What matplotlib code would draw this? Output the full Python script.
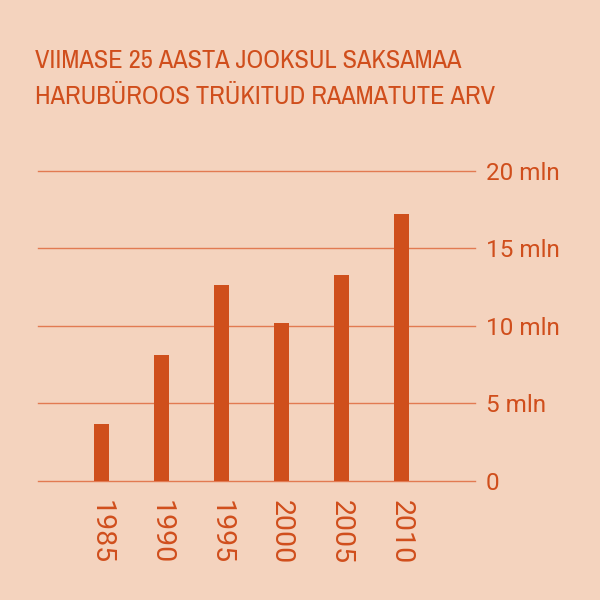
import matplotlib
matplotlib.use("Agg")
import matplotlib.pyplot as plt

years = ["1985", "1990", "1995", "2000", "2005", "2010"]
values = [3.7, 8.1, 12.6, 10.2, 13.3, 17.2]
yticks = [0, 5, 10, 15, 20]
ytick_labels = ["0", "5 mln", "10 mln", "15 mln", "20 mln"]
title = "VIIMASE 25 AASTA JOOKSUL SAKSAMAA\nHARUBÜROOS TRÜKITUD RAAMATUTE ARV"

NARROW = ["Archivo Narrow", "DejaVu Sans"]
TICKFONT = ["Roboto", "DejaVu Sans"]

BG = "#F4D3BE"
BAR = "#CF4F1C"
GRID = "#E27A52"
TXT = "#D04E1C"

fig = plt.figure(figsize=(6, 6), dpi=100, facecolor=BG)
ax = fig.add_axes([38.3/600, (600-481)/600, (475-38.3)/600, (481-170.5)/600])
ax.set_facecolor(BG)
for s in ax.spines.values():
    s.set_visible(False)

x = list(range(len(years)))
for t in yticks:
    ax.axhline(t, color=GRID, lw=1.0, zorder=1, clip_on=False)
ax.bar(x, values, width=0.255, color=BAR, zorder=2)

ax.set_xlim(-1.05, 6.23)
ax.set_ylim(0, 20)
ax.yaxis.tick_right()
ax.set_yticks(yticks)
ax.set_yticklabels(ytick_labels, family=TICKFONT, fontsize=17.5, color=TXT)
ax.set_xticks(x)
ax.set_xticklabels(years, rotation=270, family=TICKFONT, fontsize=20.5, color=TXT)
ax.tick_params(axis="both", length=0)
ax.tick_params(axis="y", pad=8)
ax.tick_params(axis="x", pad=14)

fig.text(35/600, 1-49/600, title, ha="left", va="top", fontsize=19, color=TXT,
         family=NARROW, linespacing=1.7)

fig.savefig("out.png", dpi=100, facecolor=BG)
